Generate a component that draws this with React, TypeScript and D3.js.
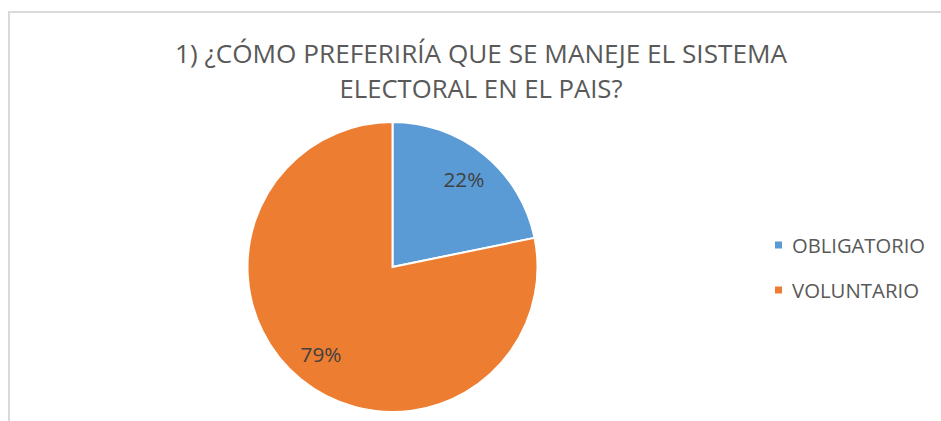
import React from "react";
import { pie, arc, PieArcDatum } from "d3";

const categories = ["OBLIGATORIO", "VOLUNTARIO"];
const values = [22, 79];
const valueLabels = ["22%", "79%"];
const colors = ["#5B9BD5", "#ED7D31"];
const titleLines = ["1) ¿CÓMO PREFERIRÍA QUE SE MANEJE EL SISTEMA", "ELECTORAL EN EL PAIS?"];

const width = 941;
const height = 421;
const cx = 392.5;
const cy = 267;
const radius = 145;
const font = "'Open Sans', sans-serif";
const textColor = "#595959";

type Slice = { name: string; value: number; label: string; color: string };

const rows: Slice[] = categories.map((name, i) => ({
  name,
  value: values[i],
  label: valueLabels[i],
  color: colors[i],
}));

const App = () => {
  const slices = pie<Slice>().sort(null).value(d => d.value)(rows);
  const slicePath = arc<PieArcDatum<Slice>>().innerRadius(0).outerRadius(radius);
  const labelArc = arc<PieArcDatum<Slice>>().innerRadius(113).outerRadius(113);

  return (
    <svg
      width={width}
      height={height}
      style={{ position: "absolute", left: 0, top: 0, background: "#fff" }}
    >
      <rect x={9} y={12} width={width} height={height} fill="#fff" stroke="#d9d9d9" strokeWidth={2} />
      {titleLines.map((t, i) => (
        <text
          key={t}
          x={481}
          y={63 + i * 35}
          textAnchor="middle"
          fontFamily={font}
          fontSize={25}
          fill={textColor}
          textLength={i === 0 ? 612 : 283}
          lengthAdjust="spacingAndGlyphs"
        >
          {t}
        </text>
      ))}
      <g transform={`translate(${cx},${cy})`}>
        {slices.map(s => (
          <path key={s.data.name} d={slicePath(s) || ""} fill={s.data.color} stroke="#fff" strokeWidth={2} />
        ))}
        {slices.map(s => {
          const [lx, ly] = labelArc.centroid(s);
          return (
            <text
              key={s.data.name + "-lbl"}
              x={lx}
              y={ly}
              dy="0.36em"
              textAnchor="middle"
              fontFamily={font}
              fontSize={20}
              fill="#404040"
              textLength={41}
              lengthAdjust="spacingAndGlyphs"
            >
              {s.data.label}
            </text>
          );
        })}
      </g>
      {rows.map((r, i) => (
        <g key={r.name} transform={`translate(775,${245.5 + i * 45})`}>
          <rect x={0} y={-4} width={7} height={7} fill={r.color} />
          <text
            x={17}
            y={0}
            dy="0.36em"
            fontFamily={font}
            fontSize={20}
            fill={textColor}
            textLength={i === 0 ? 133 : 127}
            lengthAdjust="spacingAndGlyphs"
          >
            {r.name}
          </text>
        </g>
      ))}
    </svg>
  );
};

export default App;
